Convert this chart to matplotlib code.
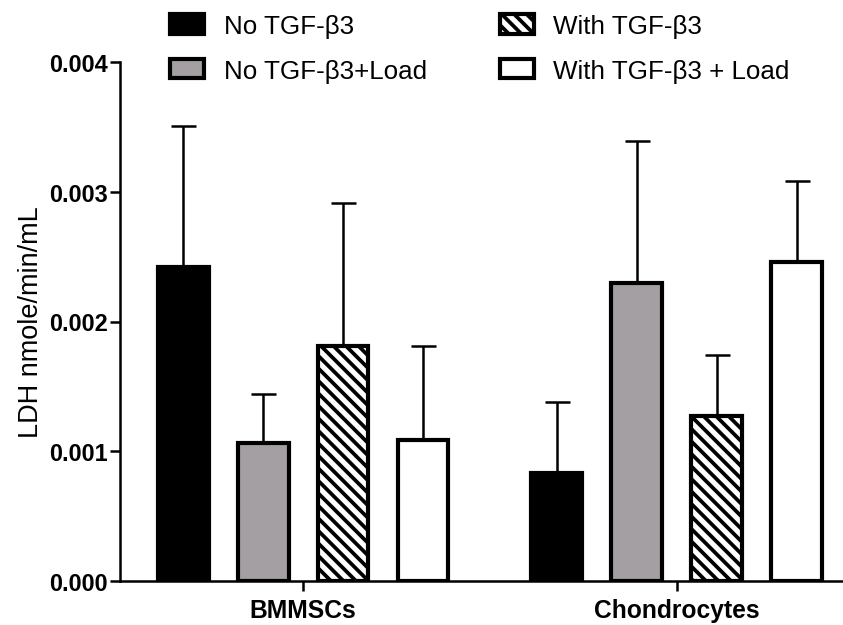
import numpy as np
import matplotlib
matplotlib.use('Agg')
import matplotlib.pyplot as plt
from matplotlib.patches import Patch

plt.rcParams['font.family'] = ['Liberation Sans', 'DejaVu Sans']
plt.rcParams['hatch.linewidth'] = 1.8

# 데이터
groups = ['BMMSCs', 'Chondrocytes']
labels = ['No TGF-β3', 'No TGF-β3+Load', 'With TGF-β3', 'With TGF-β3 + Load']
means = {
    'No TGF-β3':          [0.00242, 0.00083],
    'No TGF-β3+Load':     [0.00106, 0.00230],
    'With TGF-β3':        [0.00181, 0.00127],
    'With TGF-β3 + Load': [0.00109, 0.00246],
}
errs = {
    'No TGF-β3':          [0.00109, 0.00055],
    'No TGF-β3+Load':     [0.00038, 0.00109],
    'With TGF-β3':        [0.00110, 0.00047],
    'With TGF-β3 + Load': [0.00072, 0.00062],
}
yticks = [0.000, 0.001, 0.002, 0.003, 0.004]

colors = ['black', '#a39fa3', 'white', 'white']
hatches = [None, None, '\\\\\\\\', None]

fig = plt.figure(figsize=(8.43 / 1.5, 6.26 / 1.5), dpi=150)
ax = fig.add_axes([120 / 843, 44 / 626, 1 - 120 / 843, (582 - 63) / 626])

x = np.arange(len(groups))
pitch = 0.214
width = 0.136
for i, lab in enumerate(labels):
    pos = x + (i - 1.5) * pitch
    ax.bar(pos, means[lab], width, color=colors[i], edgecolor='black',
           linewidth=2.0, hatch=hatches[i], zorder=2)
    ax.errorbar(pos, means[lab], yerr=[np.zeros(len(groups)), errs[lab]],
                fmt='none', ecolor='black', elinewidth=1.2, capsize=6,
                capthick=1.2, zorder=1)

ax.set_xlim(-0.49, 1.445)
ax.set_ylim(0, 0.004)
ax.set_yticks(yticks)
ax.set_yticklabels([f'{v:.3f}' for v in yticks], fontweight='bold', fontsize=11.3)
ax.set_xticks(x)
ax.set_xticklabels(groups, fontweight='bold', fontsize=11.8)
ax.set_ylabel('LDH nmole/min/mL', fontsize=13, labelpad=2)

for s in ['top', 'right']:
    ax.spines[s].set_visible(False)
for s in ['left', 'bottom']:
    ax.spines[s].set_linewidth(1.2)
ax.tick_params(width=1.2, length=5)
ax.tick_params(axis='y', pad=1)
ax.tick_params(axis='x', pad=3)

handles = [Patch(facecolor=colors[i], edgecolor='black', linewidth=2.0,
                 hatch=hatches[i], label=labels[i]) for i in range(4)]
fig.legend(handles=handles, loc='upper left', ncol=2, frameon=False,
           bbox_to_anchor=(152 / 843, 1.005), fontsize=12.5,
           handlelength=1.3, handleheight=0.75, handletextpad=0.75,
           labelspacing=0.8, columnspacing=2.8, borderaxespad=0.3)

fig.savefig('out.png', dpi=150)
